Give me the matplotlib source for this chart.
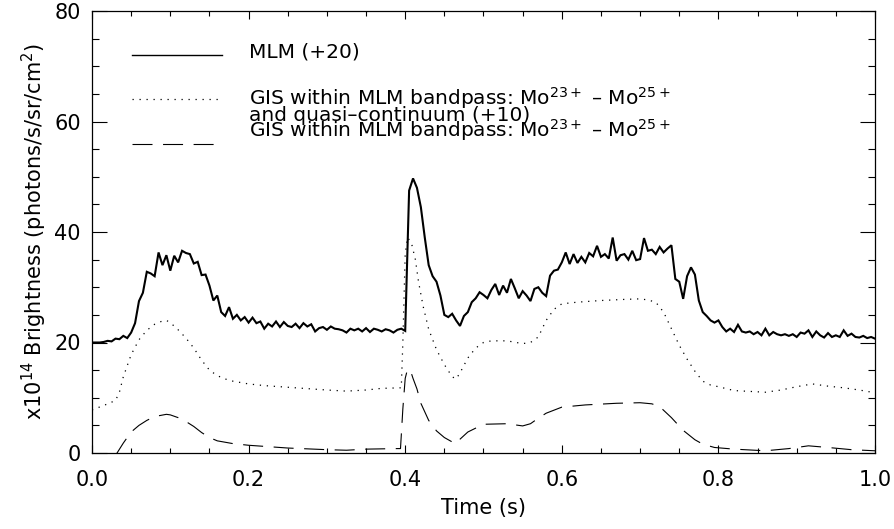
import numpy as np
import matplotlib
matplotlib.use("Agg")
import matplotlib.pyplot as plt
from matplotlib.ticker import MultipleLocator
from matplotlib.lines import Line2D

# ---------------- data ----------------
# MLM (+20), sampled every 0.005 s from 0 to 1 s
mlm_time = np.linspace(0.0, 1.0, 201)
mlm_values = [
    20.0, 20.0, 20.0, 20.1, 20.3, 20.2, 20.7, 20.6, 21.2, 20.8,
    21.8, 23.5, 27.5, 29.0, 32.8, 32.5, 32.0, 36.3, 34.0, 35.8,
    33.0, 35.7, 34.5, 36.6, 36.2, 36.0, 34.3, 34.6, 32.2, 32.3,
    30.3, 27.6, 28.5, 25.5, 24.8, 26.4, 24.3, 25.0, 24.0, 24.6,
    23.6, 24.5, 23.5, 23.8, 22.5, 23.4, 22.9, 23.8, 22.8, 23.7,
    23.0, 22.8, 23.4, 22.6, 23.5, 22.9, 23.3, 22.0, 22.6, 22.8,
    22.3, 22.9, 22.5, 22.4, 22.2, 21.8, 22.5, 22.2, 22.5, 22.0,
    22.6, 21.9, 22.5, 22.3, 22.0, 22.4, 22.2, 21.8, 22.3, 22.5,
    22.1, 47.5, 49.7, 48.0, 44.5, 39.0, 34.0, 32.0, 31.0, 28.5,
    25.0, 24.6, 25.2, 24.0, 23.0, 24.8, 25.5, 27.3, 28.0, 29.1,
    28.6, 28.0, 29.5, 30.6, 28.6, 30.3, 29.0, 31.5, 29.8, 28.0,
    29.3, 28.5, 27.5, 29.7, 30.0, 29.0, 28.4, 32.1, 33.0, 33.2,
    34.5, 36.3, 34.2, 36.0, 34.4, 35.5, 34.5, 36.2, 35.6, 37.5,
    35.5, 36.0, 35.2, 39.0, 34.8, 35.8, 36.0, 35.0, 36.6, 34.9,
    35.1, 38.9, 36.6, 36.8, 36.0, 37.3, 36.3, 37.0, 37.6, 31.5,
    31.0, 27.9, 32.0, 33.6, 32.3, 27.6, 25.5, 24.8, 24.0, 23.6,
    24.0, 22.8, 22.0, 22.5, 21.9, 23.2, 22.0, 21.8, 22.0, 21.5,
    21.9, 21.3, 22.5, 21.3, 21.9, 21.5, 21.3, 21.5, 21.2, 21.5,
    21.0, 21.8, 21.6, 22.2, 21.0, 22.0, 21.3, 20.9, 21.7, 21.0,
    21.3, 21.0, 22.2, 21.2, 21.6, 21.0, 20.9, 21.2, 20.8, 21.0,
    20.7,
]

# GIS within MLM bandpass + quasi-continuum (+10)
gis_qc_time = [
    0.0, 0.015, 0.03, 0.035, 0.04, 0.05, 0.06, 0.07, 0.08, 0.09, 0.095,
    0.10, 0.11, 0.12, 0.13, 0.14, 0.15, 0.16, 0.17, 0.18, 0.20, 0.22,
    0.26, 0.30, 0.325, 0.35, 0.37, 0.395, 0.397, 0.400, 0.403, 0.408,
    0.413, 0.417, 0.423, 0.43, 0.44, 0.45, 0.46, 0.465, 0.47, 0.48,
    0.49, 0.50, 0.51, 0.53, 0.55, 0.56, 0.57, 0.58, 0.59, 0.60, 0.62,
    0.65, 0.68, 0.70, 0.71, 0.72, 0.73, 0.74, 0.75, 0.76, 0.77, 0.78,
    0.79, 0.80, 0.82, 0.86, 0.88, 0.90, 0.92, 0.94, 0.96, 0.98, 1.0,
]
gis_qc_values = [
    7.8, 8.6, 9.5, 11.0, 13.8, 17.8, 20.5, 22.2, 23.3, 23.9, 24.0,
    23.6, 22.3, 20.8, 19.0, 16.8, 15.0, 14.0, 13.4, 13.0, 12.5, 12.2,
    11.8, 11.4, 11.2, 11.4, 11.7, 11.8, 20.0, 36.0, 39.0, 38.0,
    35.0, 31.0, 26.5, 22.4, 18.7, 16.0, 13.8, 13.4, 14.5, 17.2,
    19.0, 20.0, 20.3, 20.3, 19.8, 20.0, 21.0, 24.0, 26.0, 27.0, 27.3,
    27.6, 27.8, 27.9, 27.7, 27.3, 25.5, 22.5, 19.5, 17.0, 14.8, 13.0,
    12.3, 12.0, 11.3, 11.0, 11.4, 12.0, 12.5, 12.1, 11.8, 11.4, 10.9,
]

# GIS within MLM bandpass (Mo23+ - Mo25+)
gis_time = [
    0.0, 0.02, 0.032, 0.04, 0.05, 0.06, 0.07, 0.08, 0.095, 0.10, 0.11,
    0.12, 0.13, 0.14, 0.15, 0.16, 0.18, 0.20, 0.25, 0.30, 0.325, 0.35,
    0.39, 0.394, 0.397, 0.400, 0.403, 0.407, 0.41, 0.415, 0.42, 0.43,
    0.44, 0.45, 0.46, 0.465, 0.47, 0.48, 0.49, 0.50, 0.53, 0.55, 0.56,
    0.57, 0.58, 0.60, 0.63, 0.67, 0.70, 0.715, 0.725, 0.74, 0.755, 0.77,
    0.78, 0.795, 0.82, 0.86, 0.89, 0.915, 0.94, 0.97, 1.0,
]
gis_values = [
    -4.0, -2.0, 0.0, 1.8, 3.8, 5.0, 5.9, 6.6, 7.0, 6.9, 6.4,
    5.7, 4.8, 3.7, 2.8, 2.2, 1.7, 1.4, 0.9, 0.6, 0.5, 0.7,
    0.8, 0.8, 8.0, 13.5, 15.2, 14.8, 13.5, 11.6, 9.0, 5.9,
    4.0, 2.8, 2.0, 1.7, 2.5, 3.8, 4.5, 5.2, 5.3, 4.9, 5.3,
    6.3, 7.2, 8.3, 8.7, 9.0, 9.1, 8.9, 8.4, 6.4, 4.1, 2.4,
    1.6, 1.0, 0.7, 0.4, 0.8, 1.3, 1.0, 0.6, 0.4,
]

x_ticks = [0.0, 0.2, 0.4, 0.6, 0.8, 1.0]
y_ticks = [0, 20, 40, 60, 80]

legend_labels = [
    "MLM (+20)",
    "GIS within MLM bandpass: Mo$^{23+}$ – Mo$^{25+}$\nand quasi–continuum (+10)",
    "GIS within MLM bandpass: Mo$^{23+}$ – Mo$^{25+}$",
]

# ---------------- style ----------------
plt.rcParams["font.family"] = ["DejaVu Sans"]
plt.rcParams["mathtext.fontset"] = "dejavusans"
FS = 15
LFS = 14.5

dotted = (0, (1.0, 4.6))
dashed = (0, (18, 9.5))

fig = plt.figure(figsize=(8.95, 5.29), dpi=100)
ax = fig.add_axes([92 / 895, 1 - 453 / 529, 783 / 895, 442 / 529])

ax.plot(mlm_time, mlm_values, color="black", lw=1.5, solid_joinstyle="miter")
ax.plot(gis_qc_time, gis_qc_values, color="black", lw=0.9, linestyle=dotted)
ax.plot(gis_time, gis_values, color="black", lw=0.8, linestyle=dashed)

ax.set_xlim(0.0, 1.0)
ax.set_ylim(0, 80)
ax.set_xticks(x_ticks)
ax.set_xticklabels([f"{v:.1f}" for v in x_ticks])
ax.set_yticks(y_ticks)
ax.set_yticklabels([str(v) for v in y_ticks])
ax.xaxis.set_minor_locator(MultipleLocator(0.05))
ax.yaxis.set_minor_locator(MultipleLocator(5))

ax.tick_params(axis="both", which="both", direction="in", top=True, right=True,
               labelsize=FS, colors="black", width=0.8)
ax.tick_params(axis="x", which="major", length=6, pad=12)
ax.tick_params(axis="x", which="minor", length=3.5)
ax.tick_params(axis="y", which="major", length=11, pad=8)
ax.tick_params(axis="y", which="minor", length=5)
for s in ax.spines.values():
    s.set_linewidth(0.9)

ax.set_xlabel("Time (s)", fontsize=FS, labelpad=6)
ax.set_ylabel("x10$^{14}$ Brightness (photons/s/sr/cm$^{2}$)", fontsize=FS, labelpad=4)

# ---------------- legend (manual, IDL style) ----------------
tr = ax.transAxes
ax.add_line(Line2D([0.051, 0.166], [0.9005, 0.9005], transform=tr, color="black", lw=1.0))
ax.add_line(Line2D([0.051, 0.166], [0.801, 0.801], transform=tr, color="black", lw=0.9, linestyle=dotted))
ax.add_line(Line2D([0.051, 0.166], [0.699, 0.699], transform=tr, color="black", lw=0.8, linestyle=dashed))

tx = 0.200
ax.text(tx, 0.894, legend_labels[0], transform=tr, fontsize=LFS, va="baseline", ha="left")
# items 2 and 3 are stacked tightly as in the original, drawn as one text block
ax.text(tx, 0.715, legend_labels[1] + "\n" + legend_labels[2], transform=tr, fontsize=LFS,
        va="baseline", ha="left", linespacing=0.62)

fig.savefig("out.png", dpi=100)
